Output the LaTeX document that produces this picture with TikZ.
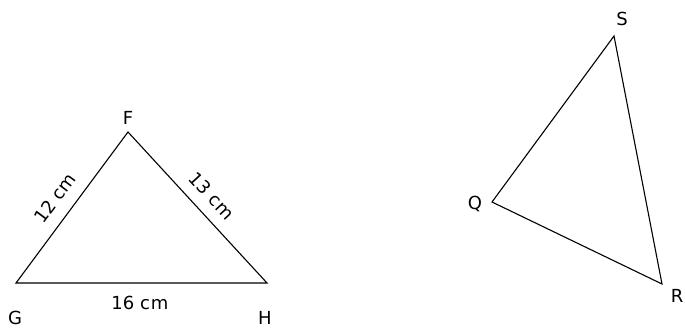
\documentclass[tikz,border=0pt]{standalone}
\usepackage{fontspec}
\setmainfont{DejaVu Sans}
\begin{document}
\begin{tikzpicture}[x=1pt,y=-1pt,
  edge/.style={line width=1.1pt, line join=miter},
  lbl/.style={font=\fontsize{18}{20}\selectfont, inner sep=0pt}]
\useasboundingbox (0,0) rectangle (685,329);
\coordinate (F) at (128,132);
\coordinate (G) at (16,283);
\coordinate (H) at (267,283);
\coordinate (S) at (614,36);
\coordinate (Q) at (492,202);
\coordinate (R) at (662,284);
\draw[edge] (F) -- (G) -- (H) -- cycle;
\draw[edge] (S) -- (Q) -- (R) -- cycle;
\node[lbl] (lF) at (128,118) {F};
\node[lbl] (lG) at (15,318) {G};
\node[lbl] (lH) at (265,318) {H};
\node[lbl] (lS) at (622,19) {S};
\node[lbl] (lQ) at (475,204) {Q};
\node[lbl] (lR) at (677,296) {R};
\node[lbl, rotate=53.4] (l12) at (55,198) {12 c\kern1pt m};
\node[lbl, rotate=-47.4] (l13) at (212,196) {13 c\kern1pt m};
\node[lbl] (l16) at (140,303) {16 c\kern1pt m};
\end{tikzpicture}
\end{document}
